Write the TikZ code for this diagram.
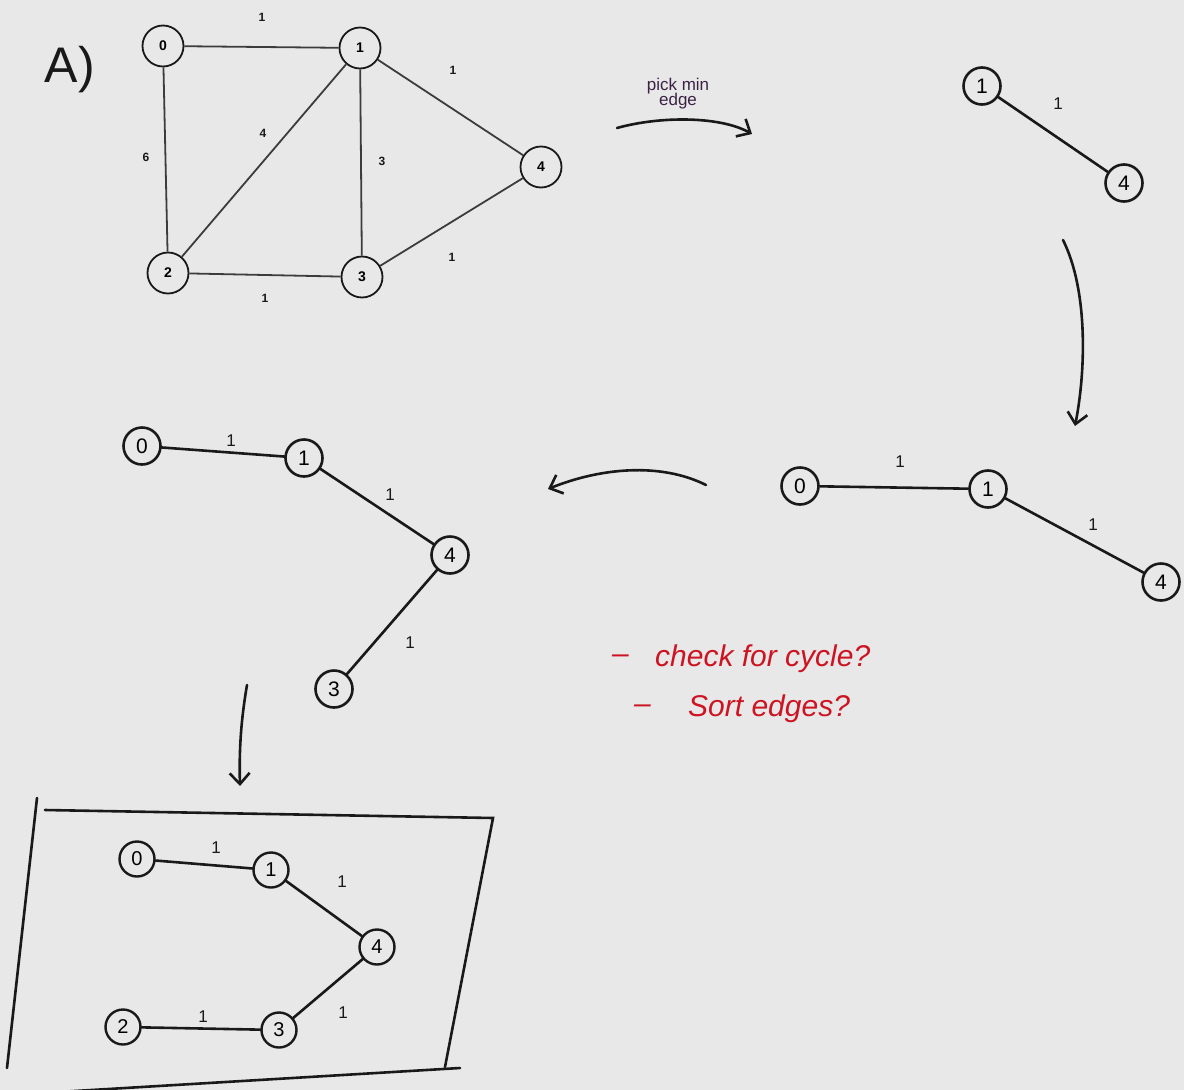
\documentclass[tikz,border=0pt]{standalone}
\usepackage{fontspec}
\setmainfont{Liberation Sans}
\usetikzlibrary{arrows.meta}
\definecolor{bg}{RGB}{232,232,232}
\definecolor{ink}{RGB}{25,25,25}
\definecolor{pen}{RGB}{205,20,35}
\definecolor{purp}{RGB}{60,35,70}
\tikzset{
  pn/.style={circle,draw=ink,line width=1.8pt,minimum size=41pt,inner sep=0pt,font=\bfseries\fontsize{14}{14}\selectfont},
  pl/.style={font=\bfseries\fontsize{12}{12}\selectfont,text=ink,inner sep=1pt},
  pe/.style={draw=ink!85,line width=1.8pt},
  hn/.style={circle,draw=ink,line width=2.6pt,minimum size=37pt,inner sep=0pt,font=\fontsize{21}{21}\selectfont},
  bn/.style={circle,draw=ink,line width=2.4pt,minimum size=35pt,inner sep=0pt,font=\fontsize{20}{20}\selectfont},
  hl/.style={font=\fontsize{17}{17}\selectfont,text=ink,inner sep=1pt},
  he/.style={draw=ink,line width=2.6pt,line cap=round},
  note/.style={font=\itshape\fontsize{30}{30}\selectfont,text=pen,anchor=west,inner sep=0pt},
  harrow/.style={draw=ink,line width=2.6pt,line cap=round,-{Straight Barb[length=11pt,width=20pt,line width=2.6pt]}},
}
\begin{document}
\begin{tikzpicture}[x=1pt,y=-1pt]
\fill[bg] (0,0) rectangle (1184,1090);
\useasboundingbox (0,0) rectangle (1184,1090);

% A)
\node[font=\fontsize{50}{50}\selectfont,text=ink] (lblA) at (70,70) {A)};

% printed graph
\node[pn] (a0) at (163,46) {0};
\node[pn] (a1) at (360,48) {1};
\node[pn] (a4) at (541,167) {4};
\node[pn] (a2) at (168,273) {2};
\node[pn] (a3) at (362,277) {3};
\draw[pe] (a0) -- (a1);
\draw[pe] (a0) -- (a2);
\draw[pe] (a1) -- (a2);
\draw[pe] (a1) -- (a3);
\draw[pe] (a1) -- (a4);
\draw[pe] (a3) -- (a4);
\draw[pe] (a2) -- (a3);
\node[pl] (w01) at (262,17) {1};
\node[pl] (w02) at (146,157) {6};
\node[pl] (w12) at (263,133) {4};
\node[pl] (w13) at (382,161) {3};
\node[pl] (w14) at (453,70) {1};
\node[pl] (w34) at (452,257) {1};
\node[pl] (w23) at (265,298) {1};

% pick min edge
\node[font=\fontsize{17}{17}\selectfont,text=purp,align=center] (pick) at (678,94) {pick min\\[-2pt]edge};
\coordinate (pA) at (617,128);
\coordinate (pB) at (752,134);
\draw[harrow] (pA) .. controls (660,116) and (720,116) .. (pB);

% step 1
\node[hn] (b1) at (982,86) {1};
\node[hn] (b4) at (1124,183) {4};
\draw[he] (b1) -- (b4);
\node[hl] (wb14) at (1058,104) {1};

\coordinate (dA) at (1063,240);
\coordinate (dB) at (1075,426);
\draw[harrow] (dA) .. controls (1088,290) and (1086,370) .. (dB);

% step 2
\node[hn] (c0) at (800,486) {0};
\node[hn] (c1) at (988,489) {1};
\node[hn] (c4) at (1161,582) {4};
\draw[he] (c0) -- (c1);
\draw[he] (c1) -- (c4);
\node[hl] (wc01) at (900,462) {1};
\node[hl] (wc14) at (1093,525) {1};

\coordinate (lA) at (706,485);
\coordinate (lB) at (548,489);
\draw[harrow] (lA) .. controls (660,462) and (600,468) .. (lB);

% step 3
\node[hn] (e0) at (142,446) {0};
\node[hn] (e1) at (304,458) {1};
\node[hn] (e4) at (450,555) {4};
\node[hn] (e3) at (334,689) {3};
\draw[he] (e0) -- (e1);
\draw[he] (e1) -- (e4);
\draw[he] (e4) -- (e3);
\node[hl] (we01) at (231,441) {1};
\node[hl] (we14) at (390,495) {1};
\node[hl] (we43) at (410,643) {1};

% red notes
\node[note] (n1a) at (612,659) {--};
\node[note] (n1) at (655,659) {check for cycle?};
\node[note] (n2a) at (634,709) {--};
\node[note] (n2) at (688,709) {Sort edges?};

\coordinate (sA) at (247,685);
\coordinate (sB) at (240,786);
\draw[harrow] (sA) .. controls (241,720) and (239,750) .. (sB);

% result box
\coordinate (k1) at (37,798);
\coordinate (k2) at (7,1068);
\coordinate (k3) at (45,810);
\coordinate (k4) at (493,818);
\coordinate (k5) at (445,1067);
\coordinate (k6) at (58,1092);
\coordinate (k7) at (460,1068);
\draw[he] (k1) -- (k2);
\draw[he] (k3) -- (k4) -- (k5);
\draw[he] (k6) -- (k7);

\node[bn] (f0) at (137,859) {0};
\node[bn] (f1) at (271,870) {1};
\node[bn] (f4) at (377,947) {4};
\node[bn] (f2) at (123,1027) {2};
\node[bn] (f3) at (279,1030) {3};
\draw[he] (f0) -- (f1);
\draw[he] (f1) -- (f4);
\draw[he] (f4) -- (f3);
\draw[he] (f2) -- (f3);
\node[hl] (wf01) at (216,848) {1};
\node[hl] (wf14) at (342,882) {1};
\node[hl] (wf43) at (343,1013) {1};
\node[hl] (wf23) at (203,1017) {1};
\end{tikzpicture}
\end{document}
